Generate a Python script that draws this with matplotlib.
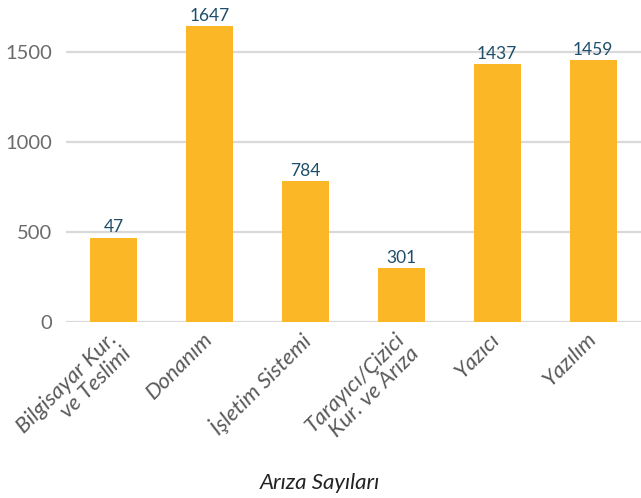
import numpy as np
import matplotlib.pyplot as plt
import matplotlib.transforms as mtransforms

# Arıza kategorileri ve sayıları
categories = ['Bilgisayar Kur.\nve Teslimi', 'Donanım', 'İşletim Sistemi',
              'Tarayıcı/Çizici\nKur. ve Arıza', 'Yazıcı', 'Yazılım']
counts = [470, 1647, 784, 301, 1437, 1459]
value_labels = ['47', '1647', '784', '301', '1437', '1459']
yticks = [0, 500, 1000, 1500]

plt.rcParams['font.family'] = ['Lato', 'DejaVu Sans']

fig = plt.figure(figsize=(6.41, 4.98), dpi=100)
ax = fig.add_axes([66 / 641, 176 / 498, 575 / 641, 320 / 498])

x = np.arange(len(categories))
bars = ax.bar(x, counts, width=0.49, color='#FBB725', zorder=3)

for rect, lab in zip(bars, value_labels):
    ax.text(rect.get_x() + rect.get_width() / 2, rect.get_height() + 12, lab,
            ha='center', va='bottom', fontsize=12.5, color='#1F4E6B')

ax.set_xlim(-0.5, len(categories) - 0.5)
ax.set_ylim(0, 1780)
ax.set_yticks(yticks)
ax.set_yticklabels([str(v) for v in yticks], fontsize=14.5, color='#6b6b6b')
ax.yaxis.grid(True, color='#d9d9d9', linewidth=1.6, zorder=0)
ax.tick_params(axis='y', length=0, pad=10)
ax.tick_params(axis='x', length=0, pad=5)

ax.set_xticks(x)
ax.set_xticklabels(categories, rotation=45, ha='right', rotation_mode='anchor',
                   fontsize=16, style='italic', color='#595959', linespacing=1.0)
# etiketleri biraz sola kaydır
shift = mtransforms.ScaledTranslation(-7 / 100, 0, fig.dpi_scale_trans)
for lbl in ax.get_xticklabels():
    lbl.set_transform(lbl.get_transform() + shift)

for s in ax.spines.values():
    s.set_visible(False)

fig.text(320 / 641, 15 / 498, 'Arıza Sayıları', ha='center', va='center',
         fontsize=16, style='italic', color='#222222')

fig.savefig('out.png', dpi=100)
